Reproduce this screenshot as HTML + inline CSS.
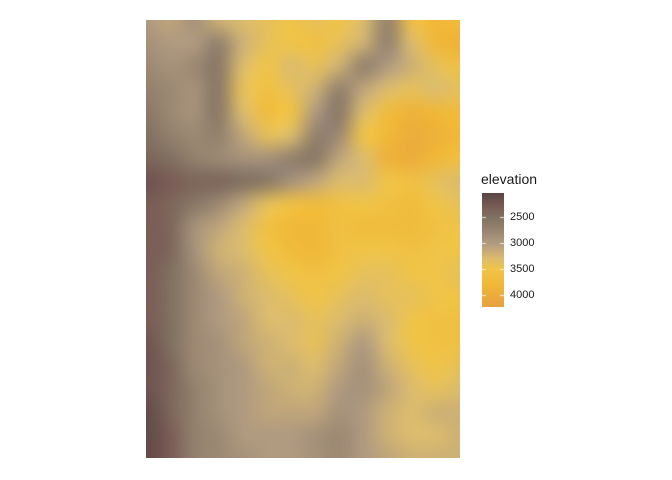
<!DOCTYPE html>
<html><head><meta charset="utf-8"><style>
body{margin:0;background:#fff;width:672px;height:480px;overflow:hidden;font-family:"Liberation Sans",sans-serif}
#wrap{position:relative;width:672px;height:480px}
canvas{position:absolute}
.lbl{position:absolute;font-size:11px;color:#1a1a1a}
</style></head><body>
<div id="wrap">
<canvas id="map" width="314" height="438" style="left:146px;top:20px"></canvas>
<div class="lbl" style="left:481px;top:171px;font-size:14px">elevation</div>
<canvas id="bar" width="22" height="114" style="left:482px;top:193px"></canvas>
<div id="ticks"></div>
</div>
<script>
const cols = 14, rows = 20;
const elevation = [
[3000,3100,2900,3200,3300,3400,3500,3400,3500,3300,2700,3600,3800,3700],
[2900,3000,3000,2700,3200,3400,3500,3600,3400,3200,2700,3300,3800,3900],
[2800,2900,2800,2600,3300,3500,3300,3400,3200,2700,3000,3200,3400,3600],
[2700,2800,2900,2600,3400,3600,3400,3200,2700,3100,3300,3400,3300,3400],
[2600,2800,2900,2600,3300,3700,3500,3000,2600,3300,3700,3900,3800,3700],
[2500,2700,2800,2700,3100,3400,3300,2700,2800,3500,3800,4000,3900,3800],
[2400,2500,2700,2800,2900,2900,2700,2600,3100,3300,3900,4000,3800,3600],
[2200,2300,2400,2400,2500,2600,2900,3100,3300,3300,3500,3600,3400,3300],
[2300,2400,2600,2800,3100,3400,3600,3700,3600,3500,3600,3700,3500,3400],
[2300,2400,2900,3100,3300,3600,3800,3800,3600,3700,3700,3700,3600,3500],
[2300,2400,2900,3200,3300,3500,3700,3800,3600,3500,3500,3600,3500,3500],
[2300,2500,2800,3100,3200,3400,3500,3600,3500,3400,3400,3500,3500,3400],
[2300,2500,2800,3000,3200,3300,3400,3500,3400,3300,3400,3400,3500,3500],
[2300,2500,2800,3000,3100,3300,3300,3400,3300,3200,3300,3500,3600,3600],
[2200,2500,2800,2900,3100,3200,3300,3400,3200,3000,3300,3500,3600,3600],
[2200,2400,2800,2900,3000,3200,3200,3300,3100,2900,3200,3400,3500,3400],
[2200,2400,2700,2900,3000,3100,3200,3200,3000,2900,3100,3300,3400,3300],
[2100,2400,2700,2900,3000,3100,3100,3100,2900,3000,3200,3300,3200,3200],
[2100,2300,2700,2800,3000,3000,3000,2900,2800,3000,3200,3300,3300,3200],
[2100,2300,2700,2800,2900,3000,3000,2900,2800,3000,3100,3200,3200,3200]
];
const tickValues = [2500,3000,3500,4000];
const scaleMin = 2040, scaleMax = 4230;
const stops = [[2040,[90,68,68]],[2300,[122,92,86]],[2500,[128,112,96]],[3000,[176,154,128]],[3300,[220,188,110]],[3500,[240,196,72]],[3800,[240,184,56]],[4230,[232,160,64]]];
function color(v){
  if(v<=stops[0][0]) return stops[0][1];
  for(let i=1;i<stops.length;i++){
    if(v<=stops[i][0]){const a=stops[i-1],b=stops[i],t=(v-a[0])/(b[0]-a[0]);
      return a[1].map((c,k)=>Math.round(c+(b[1][k]-c)*t));}
  }
  return stops[stops.length-1][1];
}
const small=document.createElement('canvas');small.width=cols;small.height=rows;
const sc=small.getContext('2d');
for(let r=0;r<rows;r++)for(let c=0;c<cols;c++){
  const col=color(elevation[r][c]);
  sc.fillStyle='rgb('+col.join(',')+')';sc.fillRect(c,r,1,1);
}
const m=document.getElementById('map').getContext('2d');
m.imageSmoothingEnabled=true;m.imageSmoothingQuality='high';
m.drawImage(small,0.5,0.5,cols-1,rows-1,0,0,314,438);
const b=document.getElementById('bar').getContext('2d');
const yOf=v=>(v-scaleMin)/(scaleMax-scaleMin)*114;
for(let y=0;y<114;y++){const v=scaleMin+(y+0.5)/114*(scaleMax-scaleMin);b.fillStyle='rgb('+color(v).join(',')+')';b.fillRect(0,y,22,1);}
b.strokeStyle='rgba(255,255,255,0.8)';
const tk=document.getElementById('ticks');
tickValues.forEach(v=>{const y=Math.round(yOf(v))+0.5;
  b.beginPath();b.moveTo(0,y);b.lineTo(4,y);b.moveTo(18,y);b.lineTo(22,y);b.stroke();
  const d=document.createElement('div');d.className='lbl';
  
  
  d.style.left='510px';d.style.top=(193+y-7)+'px';d.textContent=v;tk.appendChild(d);});
</script>
</body></html>
